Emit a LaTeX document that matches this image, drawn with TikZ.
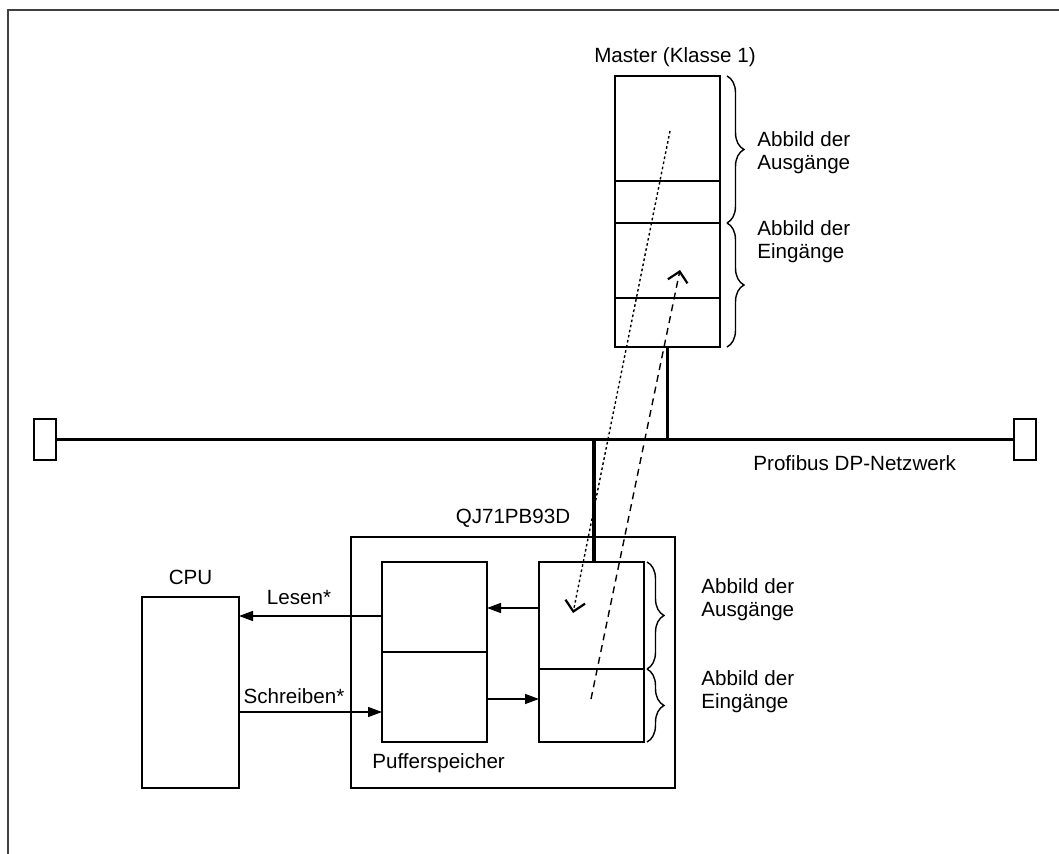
\documentclass[tikz,border=0pt]{standalone}
\usepackage{fontspec}
\setmainfont{Liberation Sans}
\usetikzlibrary{arrows.meta, positioning, calc, decorations.pathreplacing}

\begin{document}
\begin{tikzpicture}[x=0.5pt, y=-0.5pt,
    box/.style={draw, rectangle, inner sep=0pt, outer sep=0pt, line width=0.7pt, minimum width=52.5pt},
    lbl/.style={inner sep=0pt, font=\fontsize{10.3}{11.5}\selectfont, align=left},
    bus/.style={line width=1.6pt},
    arr/.style={-{Triangle[length=7pt, width=5pt]}, line width=0.7pt},
    brc/.style={decorate, decoration={brace, amplitude=8.5pt}, line width=0.7pt},
    xfer/.style={-{Straight Barb[length=5pt, width=10pt, line width=1.1pt]}, line width=0.7pt}]

    \useasboundingbox (0,0) rectangle (1059,854);
    % frame
    \draw[black!75, line width=0.7pt] (8,854) -- (8,10) -- (1059,10);

    % master
    \node[box, minimum height=52.5pt] (mst_a) at (667.5,128.5) {};
    \node[box, minimum height=21pt, below=0pt of mst_a] (mst_b) {};
    \node[box, minimum height=37.5pt, below=0pt of mst_b] (mst_c) {};
    \node[box, minimum height=24.5pt, below=0pt of mst_c] (mst_d) {};
    \node[lbl, above=4.5pt of mst_a, xshift=3.75pt] (mst_t) {Master (Klasse 1)};

    % bus
    \node[box, minimum width=11pt, minimum height=20.5pt] (term_l) at (45,439.5) {};
    \node[box, minimum width=11pt, minimum height=20.5pt] (term_r) at (1025,439.5) {};
    \node[lbl, anchor=west] (bus_t) at (753,463) {Profibus DP-Netzwerk};

    % cpu and module
    \node[box, minimum width=48.5pt, minimum height=95.5pt] (cpu) at (190.5,692.5) {};
    \node[lbl, above=6pt of cpu] (cpu_t) {CPU};
    \node[box, minimum width=162pt, minimum height=125.5pt] (qj) at (513,662.5) {};
    \node[lbl, above=4.5pt of qj] (qj_t) {QJ71PB93D};
    \node[box, minimum height=45pt] (puf_a) at (434.5,607) {};
    \node[box, minimum height=45pt, below=0pt of puf_a] (puf_b) {};
    \node[lbl, anchor=west] (puf_t) at (372,763) {Pufferspeicher};
    \node[box, minimum height=53.5pt] (slv_a) at (591.5,615.5) {};
    \node[box, minimum height=36.5pt, below=0pt of slv_a] (slv_b) {};

    % image labels
    \node[lbl, anchor=west] (out_m) at (757,153) {Abbild der\\Ausgänge};
    \node[lbl, anchor=west] (in_m) at (757,242) {Abbild der\\Eingänge};
    \node[lbl, anchor=west] (out_s) at (701,600) {Abbild der\\Ausgänge};
    \node[lbl, anchor=west] (in_s) at (701,692) {Abbild der\\Eingänge};
    \node[lbl] (lesen) at (299,598) {Lesen*};
    \node[lbl] (schreiben) at (294,696) {Schreiben*};

    \draw[bus] (term_l) -- (term_r);
    \draw[bus] (mst_d.south) -- (mst_d.south |- term_l.east);
    \draw[bus] ([xshift=1.25pt]slv_a.north) -- ([xshift=1.25pt]slv_a.north |- term_l.east);

    \draw[brc] ([xshift=3.5pt]mst_a.north east) -- ([xshift=3.5pt]mst_b.south east);
    \draw[brc] ([xshift=3.5pt]mst_c.north east) -- ([xshift=3.5pt]mst_d.south east);
    \draw[brc] ([xshift=1.5pt]slv_a.north east) -- ([xshift=1.5pt]slv_a.south east);
    \draw[brc] ([xshift=1.5pt]slv_b.north east) -- ([xshift=1.5pt]slv_b.south east);

    \draw[arr] ([yshift=-4.5pt]puf_a.west) -- ([yshift=-4.5pt]puf_a.west -| cpu.east);
    \draw[arr] ([yshift=-7.5pt]puf_b.west -| cpu.east) -- ([yshift=-7.5pt]puf_b.west);
    \draw[arr] ([yshift=3.75pt]slv_a.west) -- ([yshift=3.75pt]slv_a.west -| puf_a.east);
    \draw[arr] ([yshift=-1pt]puf_b.east) -- ([yshift=-1pt]puf_b.east -| slv_b.west);

    % data exchange
    \coordinate (req_s) at (670,131);
    \coordinate (req_e) at (573,613);
    \coordinate (rsp_s) at (591,699);
    \coordinate (rsp_e) at (680,270);
    \draw[xfer, dash pattern=on 1.3pt off 1.3pt] (req_s) -- (req_e);
    \draw[xfer, dash pattern=on 3.5pt off 2.5pt] (rsp_s) -- (rsp_e);
\end{tikzpicture}
\end{document}
